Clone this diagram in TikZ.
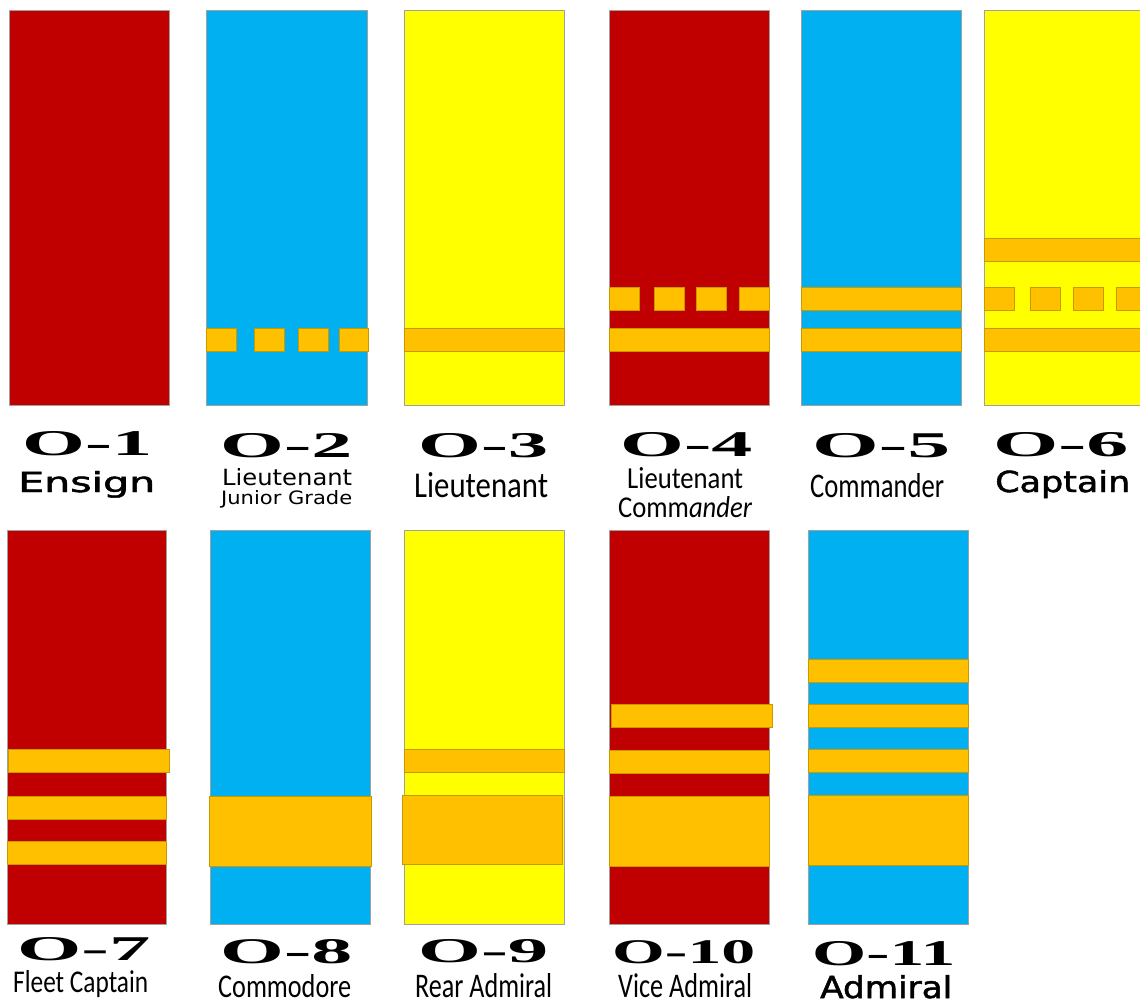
\documentclass[tikz,border=0pt]{standalone}
\usepackage{fontspec}
\usepackage{graphicx}
\setmainfont{Liberation Serif}
\newfontfamily\rankfont{Liberation Serif}
\newfontfamily\condfont{Carlito}
\newfontfamily\widefont{DejaVu Sans}
\newfontfamily\widemed{DejaVu Sans}[FakeBold=1.6]
\definecolor{rred}{HTML}{C00000}
\definecolor{rblue}{HTML}{00B0F0}
\definecolor{ryel}{HTML}{FFFF00}
\definecolor{gold}{HTML}{FFC000}
\definecolor{goldedge}{HTML}{C99A00}
\definecolor{rimgray}{HTML}{A0A0A0}
\newcommand\fitbox[3]{\resizebox{#1pt}{#2pt}{#3}}
\begin{document}
\begin{tikzpicture}[x=1pt,y=-1pt,
  rank/.style={draw=rimgray,line width=1pt},
  bar/.style={fill=gold,draw=goldedge,line width=0.8pt},
  lab/.style={anchor=base west,inner sep=0pt,text=black},
  grade/.style={lab,font=\rankfont\bfseries}]
\useasboundingbox (0,0) rectangle (1140,1004);
% top row boards
\draw[rank,fill=rred]  (9,10) rectangle (169,405);
\draw[rank,fill=rblue] (206,10) rectangle (367,405);
\draw[rank,fill=ryel]  (404,10) rectangle (564,405);
\draw[rank,fill=rred]  (609,10) rectangle (769,405);
\draw[rank,fill=rblue] (801,10) rectangle (961,405);
\draw[rank,fill=ryel]  (984,10) rectangle (1150,405);
% bottom row boards
\draw[rank,fill=rred]  (7,530) rectangle (166,924);
\draw[rank,fill=rblue] (210,530) rectangle (370,924);
\draw[rank,fill=ryel]  (404,530) rectangle (564,924);
\draw[rank,fill=rred]  (609,530) rectangle (769,924);
\draw[rank,fill=rblue] (808,530) rectangle (968,924);
% O-2
\foreach \a/\b in {206/236,254/284,298/328,339/368}
  \draw[bar] (\a,328) rectangle (\b,351);
% O-3
\draw[bar] (404,328) rectangle (564,351);
% O-4
\foreach \a/\b in {609/639,654/684,696/726,739/769}
  \draw[bar] (\a,287) rectangle (\b,310);
\draw[bar] (609,328) rectangle (769,351);
% O-5
\draw[bar] (801,287) rectangle (961,310);
\draw[bar] (801,328) rectangle (961,351);
% O-6
\draw[bar] (984,238) rectangle (1150,261);
\foreach \a/\b in {984/1014,1030/1060,1073/1103,1116/1146}
  \draw[bar] (\a,287) rectangle (\b,310);
\draw[bar] (984,328) rectangle (1150,351);
% O-7
\draw[bar] (8,749) rectangle (169,772);
\draw[bar] (7,796) rectangle (166,819);
\draw[bar] (7,841) rectangle (166,864);
% O-8
\draw[bar] (209,796) rectangle (371,866);
% O-9
\draw[bar] (404,749) rectangle (564,772);
\draw[bar] (402,795) rectangle (562,864);
% O-10
\draw[bar] (611,704) rectangle (772,727);
\draw[bar] (609,750) rectangle (769,773);
\draw[bar] (609,796) rectangle (769,866);
% O-11
\draw[bar] (808,659) rectangle (968,682);
\draw[bar] (808,704) rectangle (968,727);
\draw[bar] (808,749) rectangle (968,772);
\draw[bar] (808,795) rectangle (968,865);
% grade labels
\node[grade] (g1) at (22,455) {\fitbox{130}{24}{O-1}};
\node[grade] (g2) at (220,457) {\fitbox{132}{24}{O-2}};
\node[grade] (g3) at (418,457) {\fitbox{130}{24}{O-3}};
\node[grade] (g4) at (620,456) {\fitbox{132}{24}{O-4}};
\node[grade] (g5) at (812,457) {\fitbox{138}{24}{O-5}};
\node[grade] (g6) at (993,456) {\fitbox{135}{24}{O-6}};
\node[grade] (g7) at (17,960) {\fitbox{133}{23}{O-7}};
\node[grade] (g8) at (220,963) {\fitbox{132}{24}{O-8}};
\node[grade] (g9) at (418,962) {\fitbox{130}{23}{O-9}};
\node[grade] (g10) at (612,963) {\fitbox{143}{23}{O-10}};
\node[grade] (g11) at (812,965) {\fitbox{143}{24}{O-11}};
% rank names
\node[lab] (n1) at (18,492) {\fitbox{137}{21}{\widemed Ensign}};
\node[lab] (n2a) at (222,485) {\fitbox{130}{17}{\widefont Lieutenant}};
\node[lab] (n2b) at (221,504) {\fitbox{131}{14}{\widefont Junior Grade}};
\node[lab] (n3) at (414,497) {\fitbox{134}{25}{\condfont Lieutenant}};
\node[lab] (n4a) at (627,488) {\fitbox{116}{21}{\condfont Lieutenant}};
\node[lab] (n4b) at (618,517) {\fitbox{134}{21}{\condfont Comm\textit{ander}}};
\node[lab] (n5) at (810,497) {\fitbox{134}{24}{\condfont Commander}};
\node[lab] (n6) at (995,492) {\fitbox{135}{22}{\widemed Captain}};
\node[lab] (n7) at (13,992) {\fitbox{135}{22}{\condfont Fleet Captain}};
\node[lab] (n8) at (218,997) {\fitbox{133}{23}{\condfont Commodore}};
\node[lab] (n9) at (415,997) {\fitbox{137}{24}{\condfont Rear Admiral}};
\node[lab] (n10) at (618,997) {\fitbox{134}{24}{\condfont Vice Admiral}};
\node[lab] (n11) at (820,998) {\fitbox{132}{23}{\widemed Admiral}};
\end{tikzpicture}
\end{document}
